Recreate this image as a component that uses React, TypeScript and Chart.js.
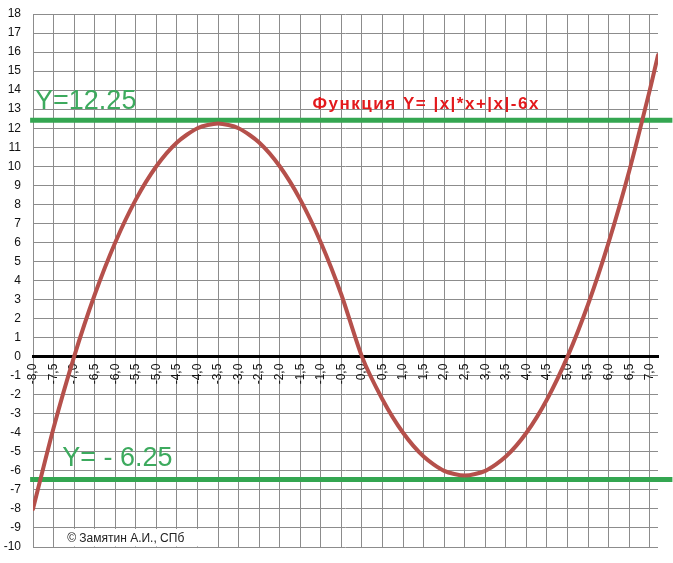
import { useEffect, useRef } from 'react';
import { Chart, registerables } from 'chart.js';

Chart.register(...registerables);

// x values of the plotted points (step 0.5, last point at 7.2)
const xValues = [
  -8, -7.5, -7, -6.5, -6, -5.5, -5, -4.5, -4, -3.5, -3, -2.5, -2, -1.5, -1, -0.5,
  0, 0.5, 1, 1.5, 2, 2.5, 3, 3.5, 4, 4.5, 5, 5.5, 6, 6.5, 7, 7.2,
];
// y values
const yValues = [
  -8, -3.75, 0, 3.25, 6, 8.25, 10, 11.25, 12, 12.25, 12, 11.25, 10, 8.25, 6, 3.25,
  0, -2.25, -4, -5.25, -6, -6.25, -6, -5.25, -4, -2.25, 0, 2.75, 6, 9.75, 14, 15.84,
];

// horizontal level lines (as drawn on the picture)
const upperLevel = 12.42;
const lowerLevel = -6.45;
const levelXFrom = -8.07;
const levelXTo = 7.55;

// axis ranges
const xMin = -8;
const xMax = 7.2;
const xStep = 0.5;
const yMin = -10;
const yMax = 18;
const yStep = 1;

// texts
const titleText = 'Функция Y= |x|*x+|x|-6x';
const upperLabel = 'Y=12.25';
const lowerLabel = 'Y= - 6.25';
const copyrightText = '© Замятин А.И., СПб';

// text anchors in data coordinates
const upperLabelPos = { x: -7.95, y: 13.03 };
const lowerLabelPos = { x: -7.29, y: -5.74 };
const titlePos = { x: -1.2, y: 13.0 };
const copyrightBox = { x1: -7.34, x2: -3.71, y1: -9.05, y2: -9.97 };
const copyrightPos = { x: -7.17, y: -9.55 };

const CURVE_COLOR = '#B5504B';
const LEVEL_COLOR = '#34A651';
const LEVEL_TEXT_COLOR = '#3DAA5E';
const TITLE_COLOR = '#E3191C';
const GRID_COLOR = '#8C8C8C';

const annotationPlugin = {
  id: 'annotations',
  afterDraw(chart: any) {
    const { ctx, scales } = chart;
    const xs = scales.x;
    const ys = scales.y;
    ctx.save();
    // copyright box
    const bx1 = xs.getPixelForValue(copyrightBox.x1);
    const bx2 = xs.getPixelForValue(copyrightBox.x2);
    const by1 = ys.getPixelForValue(copyrightBox.y1);
    const by2 = ys.getPixelForValue(copyrightBox.y2);
    ctx.fillStyle = '#ffffff';
    ctx.fillRect(bx1, by1, bx2 - bx1, by2 - by1);
    ctx.fillStyle = '#222222';
    ctx.font = '12px "Liberation Sans", Arial, sans-serif';
    ctx.textBaseline = 'middle';
    ctx.textAlign = 'left';
    ctx.fillText(copyrightText, xs.getPixelForValue(copyrightPos.x), ys.getPixelForValue(copyrightPos.y));

    // level labels
    ctx.textBaseline = 'alphabetic';
    ctx.fillStyle = LEVEL_TEXT_COLOR;
    ctx.font = '27px "Liberation Sans", Arial, sans-serif';
    ctx.fillText(upperLabel, xs.getPixelForValue(upperLabelPos.x), ys.getPixelForValue(upperLabelPos.y));
    ctx.fillText(lowerLabel, xs.getPixelForValue(lowerLabelPos.x), ys.getPixelForValue(lowerLabelPos.y));

    // title
    ctx.fillStyle = TITLE_COLOR;
    ctx.font = 'bold 17px "Liberation Sans", Arial, sans-serif';
    try {
      (ctx as any).letterSpacing = '1.5px';
    } catch (e) {}
    ctx.fillText(titleText, xs.getPixelForValue(titlePos.x), ys.getPixelForValue(titlePos.y));
    try {
      (ctx as any).letterSpacing = '0px';
    } catch (e) {}
    ctx.restore();
  },
};

function fmtX(v: number) {
  return v.toFixed(1).replace('.', ',');
}

function zeroPadding(scale: any) {
  scale.paddingTop = 0;
  scale.paddingBottom = 0;
  scale.paddingLeft = 0;
  scale.paddingRight = 0;
}

export default function App() {
  const canvasRef = useRef<HTMLCanvasElement | null>(null);

  useEffect(() => {
    document.body.style.margin = '0';
    const canvas = canvasRef.current;
    if (!canvas) return;
    const curve = xValues.map((x, i) => ({ x, y: yValues[i] }));
    const upper = [
      { x: levelXFrom, y: upperLevel },
      { x: levelXTo, y: upperLevel },
    ];
    const lower = [
      { x: levelXFrom, y: lowerLevel },
      { x: levelXTo, y: lowerLevel },
    ];
    const chart = new Chart(canvas, {
      type: 'line',
      data: {
        datasets: [
          {
            data: upper,
            borderColor: LEVEL_COLOR,
            borderWidth: 5,
            pointRadius: 0,
            clip: false as any,
            order: 2,
          },
          {
            data: lower,
            borderColor: LEVEL_COLOR,
            borderWidth: 5,
            pointRadius: 0,
            clip: false as any,
            order: 2,
          },
          {
            data: curve,
            borderColor: CURVE_COLOR,
            borderWidth: 4,
            pointRadius: 0,
            tension: 0.25,
            borderCapStyle: 'round',
            borderJoinStyle: 'round',
            order: 1,
          },
        ],
      },
      plugins: [annotationPlugin],
      options: {
        animation: false,
        responsive: false,
        devicePixelRatio: 1,
        layout: { padding: { left: 0, right: 15, top: 14, bottom: 16 } },
        plugins: {
          legend: { display: false },
          tooltip: { enabled: false },
        },
        scales: {
          x: {
            type: 'linear',
            position: { y: 0 } as any,
            min: xMin,
            max: xMax,
            grid: { color: GRID_COLOR, lineWidth: 1, drawTicks: false },
            border: { display: true, color: '#000000', width: 3 },
            afterFit: zeroPadding,
            ticks: {
              stepSize: xStep,
              includeBounds: false,
              autoSkip: false,
              minRotation: 90,
              maxRotation: 90,
              padding: 7,
              color: '#111111',
              font: { family: '"Liberation Sans", Arial, sans-serif', size: 12 },
              callback: (v: any) => fmtX(Number(v)),
            },
          },
          y: {
            type: 'linear',
            min: yMin,
            max: yMax,
            grid: { color: GRID_COLOR, lineWidth: 1, drawTicks: false },
            border: { display: false },
            afterFit: (scale: any) => {
              scale.width = 33;
              zeroPadding(scale);
            },
            ticks: {
              stepSize: yStep,
              autoSkip: false,
              padding: 12,
              color: '#111111',
              font: { family: '"Liberation Sans", Arial, sans-serif', size: 12 },
            },
          },
        },
      },
    });
    return () => chart.destroy();
  }, []);

  return (
    <div style={{ width: 673, height: 563, background: '#fff' }}>
      <canvas ref={canvasRef} width={673} height={563} style={{ display: 'block' }} />
    </div>
  );
}
